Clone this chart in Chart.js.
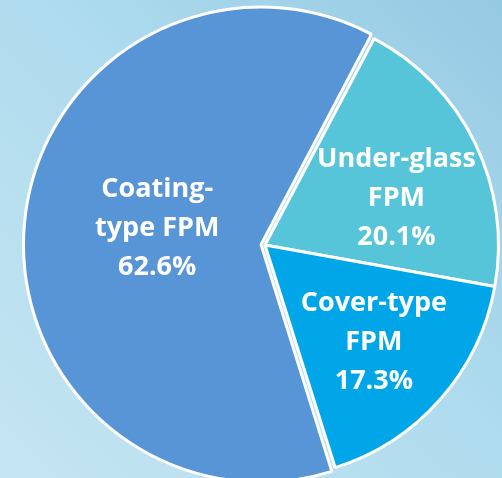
<!DOCTYPE html>
<html>
<head>
<meta charset="utf-8">
<script src="https://cdn.jsdelivr.net/npm/chart.js@4/dist/chart.umd.min.js"></script>
<style>
  html, body { margin: 0; padding: 0; }
  body {
    width: 502px; height: 478px; overflow: hidden; position: relative;
    background: linear-gradient(to bottom left, #95cae3 0%, #aedbee 45%, #c5e5f2 100%);
  }
  #wrap { position: absolute; left: 0; top: 0; width: 520px; height: 494px; }
</style>
</head>
<body>
<div id="wrap"><canvas id="pie"></canvas></div>
<script>
var categories = ['Coating-type FPM', 'Under-glass FPM', 'Cover-type FPM'];
var shares = [62.6, 20.1, 17.3];
var labelLines = [['Coating-', 'type FPM'], ['Under-glass', 'FPM'], ['Cover-type', 'FPM']];
var sliceColors = ['#5795d7', '#57c5d9', '#00a6e8'];

// where each slice label sits: fraction of radius, and a small turn in degrees
var labelRadius = [0.467, 0.597, 0.626];
var labelTurn = [3.5, 6.5, 0.5];

var sliceLabels = {
    id: 'sliceLabels',
    afterDatasetsDraw: function (chart) {
        var ctx = chart.ctx;
        var arcs = chart.getDatasetMeta(0).data;
        ctx.save();
        ctx.fillStyle = '#ffffff';
        ctx.font = 'bold 27px "Open Sans"';
        ctx.textAlign = 'center';
        ctx.textBaseline = 'middle';
        arcs.forEach(function (arc, i) {
            var mid = (arc.startAngle + arc.endAngle) / 2 + labelTurn[i] * Math.PI / 180;
            var r = arc.outerRadius * labelRadius[i];
            var x = arc.x + Math.cos(mid) * r;
            var y = arc.y + Math.sin(mid) * r;
            var lines = labelLines[i].concat([shares[i].toFixed(1) + '%']);
            var lh = 39;
            var top = y - (lines.length - 1) * lh / 2;
            lines.forEach(function (t, k) {
                ctx.fillText(t, x, top + k * lh);
            });
        });
        ctx.restore();
    }
};

new Chart(document.getElementById('pie'), {
    type: 'pie',
    data: {
        labels: categories,
        datasets: [{
            data: shares,
            backgroundColor: sliceColors,
            borderColor: '#ffffff',
            borderWidth: 3,
            // pulls the big slice out by about 8px
            offset: [16, 0, 0],
            hoverOffset: 0
        }]
    },
    options: {
        responsive: true,
        maintainAspectRatio: false,
        animation: false,
        rotation: 162.5,
        layout: { padding: { left: 22, right: 12, top: 2, bottom: 6 } },
        plugins: { legend: { display: false }, tooltip: { enabled: false } }
    },
    plugins: [sliceLabels]
});
</script>
</body>
</html>
